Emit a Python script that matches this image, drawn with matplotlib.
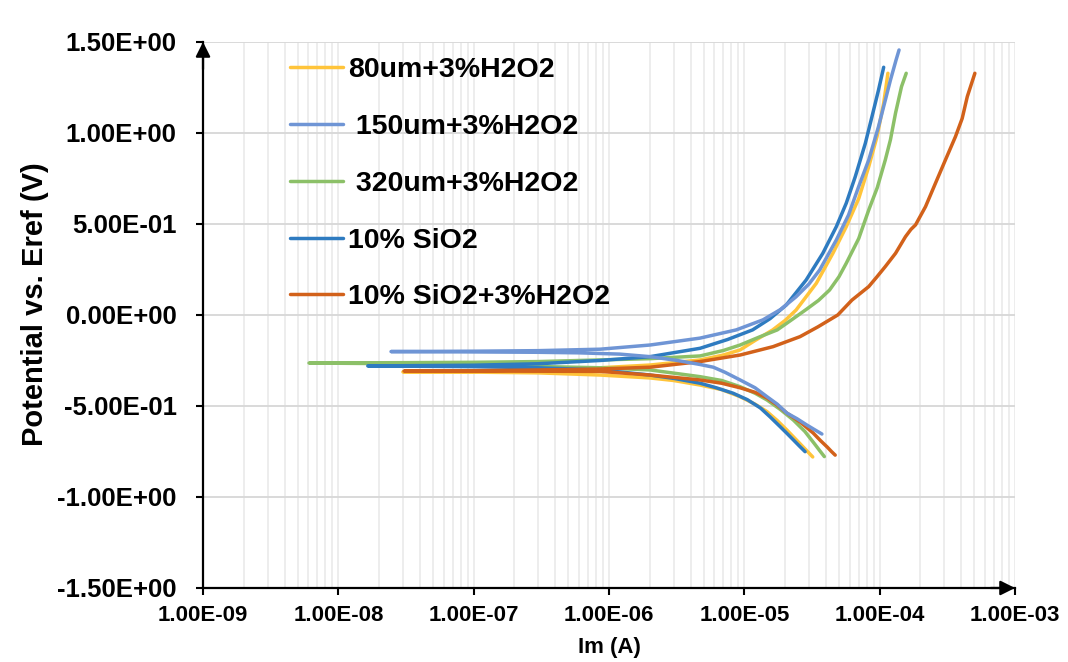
"""
Tafel polarisation curves (potential vs log current) for the five samples
"""
import numpy as np
import matplotlib
matplotlib.use('Agg')
import matplotlib.pyplot as plt
from matplotlib.ticker import LogLocator, FixedLocator, NullFormatter

plt.rcParams['font.family'] = ['Liberation Sans', 'DejaVu Sans']
plt.rcParams['font.weight'] = 'bold'

# each curve: cathodic end -> corrosion tip -> anodic end
i_80 = [3.2e-5, 2.6e-5, 2.06e-5, 1.75e-5, 1.47e-5, 1.2e-5, 9.3e-6, 6.8e-6, 4.71e-6, 3e-6, 2.01e-6,
        8.6e-7, 3e-7, 1e-7, 3.0e-8,
        1e-7, 3e-7, 8.6e-7, 2.01e-6, 4.71e-6, 7e-6, 9.3e-6, 1.2e-5, 1.62e-5, 2.0e-5, 2.41e-5,
        3.4e-5, 4.51e-5, 5.66e-5, 7.0e-5, 8.3e-5, 9.55e-5, 1.07e-4, 1.15e-4]
e_80 = [-0.78, -0.71, -0.632, -0.58, -0.531, -0.49, -0.449, -0.41, -0.385, -0.36, -0.346,
        -0.33, -0.318, -0.314, -0.313,
        -0.31, -0.303, -0.29, -0.275, -0.247, -0.22, -0.192, -0.14, -0.082, -0.03, 0.027,
        0.174, 0.339, 0.485, 0.64, 0.815, 0.98, 1.163, 1.328]

i_150 = [3.74e-5, 3.3e-5, 2.9e-5, 2.45e-5, 2.06e-5, 1.75e-5, 1.47e-5, 1.2e-5, 9.3e-6, 7.2e-6, 5.9e-6,
         4.7e-6, 3.2e-6, 2.01e-6, 1.2e-6, 6e-7, 3e-7, 1e-7, 2.45e-8,
         1e-7, 3e-7, 8.6e-7, 2.01e-6, 4.71e-6, 8.7e-6, 1.37e-5, 1.85e-5, 2.41e-5, 3.0e-5, 3.6e-5,
         4.78e-5, 5.89e-5, 6.99e-5, 8.3e-5, 9.8e-5, 1.10e-4, 1.2e-4, 1.32e-4, 1.39e-4]
e_150 = [-0.654, -0.63, -0.605, -0.57, -0.539, -0.49, -0.449, -0.40, -0.357, -0.315, -0.287,
         -0.272, -0.25, -0.229, -0.215, -0.208, -0.205, -0.203, -0.201,
         -0.199, -0.196, -0.188, -0.165, -0.127, -0.082, -0.027, 0.03, 0.10, 0.17, 0.247,
         0.412, 0.55, 0.705, 0.852, 1.035, 1.18, 1.29, 1.40, 1.456]

i_320 = [3.9e-5, 3.6e-5, 3.3e-5, 2.8e-5, 2.3e-5, 1.85e-5, 1.47e-5, 1.2e-5, 9.3e-6, 6.8e-6, 4.71e-6,
         2.01e-6, 8.6e-7, 3e-7, 1e-7, 3e-8, 6.07e-9,
         3e-8, 1e-7, 3e-7, 8.6e-7, 2.01e-6, 4.71e-6, 7e-6, 9.3e-6, 1.3e-5, 1.75e-5, 2.3e-5, 2.86e-5,
         3.53e-5, 4.26e-5, 5.0e-5, 5.66e-5, 7.0e-5, 8.3e-5, 9.6e-5, 1.1e-4, 1.2e-4, 1.31e-4,
         1.45e-4, 1.57e-4]
e_320 = [-0.778, -0.745, -0.708, -0.64, -0.577, -0.52, -0.467, -0.43, -0.394, -0.36, -0.339,
         -0.302, -0.29, -0.283, -0.275, -0.268, -0.264,
         -0.262, -0.26, -0.256, -0.247, -0.24, -0.225, -0.195, -0.165, -0.12, -0.082, -0.02, 0.03,
         0.08, 0.137, 0.21, 0.284, 0.42, 0.577, 0.70, 0.852, 0.962, 1.11,
         1.255, 1.328]

i_sio2 = [2.81e-5, 2.55e-5, 2.3e-5, 2.06e-5, 1.84e-5, 1.55e-5, 1.31e-5, 1.05e-5, 8.26e-6, 6.2e-6,
          4.71e-6, 3.1e-6, 2.01e-6, 8.6e-7, 3e-7, 1e-7, 1.65e-8,
          1e-7, 3e-7, 8.6e-7, 2.01e-6, 4.71e-6, 7.5e-6, 1.15e-5, 1.55e-5, 2.04e-5, 2.86e-5, 3.8e-5,
          4.78e-5, 5.66e-5, 6.6e-5, 7.83e-5, 8.77e-5, 9.8e-5, 1.07e-4]
e_sio2 = [-0.751, -0.72, -0.686, -0.65, -0.614, -0.56, -0.51, -0.465, -0.43, -0.40,
          -0.375, -0.35, -0.33, -0.302, -0.29, -0.284, -0.28,
          -0.276, -0.268, -0.25, -0.229, -0.183, -0.135, -0.082, -0.02, 0.055, 0.192, 0.339,
          0.485, 0.614, 0.76, 0.943, 1.09, 1.236, 1.361]

i_sio2_h2o2 = [4.69e-5, 4.4e-5, 4.1e-5, 3.65e-5, 3.22e-5, 2.6e-5, 2.06e-5, 1.75e-5, 1.47e-5, 1.2e-5,
               9.3e-6, 6.8e-6, 4.71e-6, 2.01e-6, 8.6e-7, 3e-7, 1e-7, 3.06e-8,
               1e-7, 3e-7, 8.6e-7, 2.01e-6, 4.71e-6, 9.3e-6, 1.63e-5, 2.58e-5, 3.5e-5, 4.9e-5,
               6.24e-5, 8.3e-5, 9.55e-5, 1.10e-4, 1.31e-4, 1.55e-4, 1.7e-4, 1.84e-4, 2.18e-4,
               2.58e-4, 3.06e-4, 3.63e-4, 4.07e-4, 4.44e-4, 5.05e-4]
e_sio2_h2o2 = [-0.77, -0.75, -0.726, -0.69, -0.648, -0.59, -0.539, -0.495, -0.456, -0.425,
               -0.40, -0.375, -0.357, -0.33, -0.31, -0.309, -0.308, -0.308,
               -0.306, -0.302, -0.297, -0.287, -0.256, -0.22, -0.174, -0.119, -0.065, 0.0,
               0.082, 0.156, 0.21, 0.266, 0.339, 0.43, 0.47, 0.495, 0.595,
               0.723, 0.852, 0.98, 1.08, 1.2, 1.328]

labels = ['80um+3%H2O2', ' 150um+3%H2O2', ' 320um+3%H2O2', '10% SiO2', '10% SiO2+3%H2O2']
colors = ['#FFC43A', '#6F95D5', '#8CC068', '#2E7BC0', '#D2611A']

y_ticks = [-1.5, -1.0, -0.5, 0.0, 0.5, 1.0, 1.5]
x_ticks = [1e-9, 1e-8, 1e-7, 1e-6, 1e-5, 1e-4, 1e-3]

fig = plt.figure(figsize=(10.68, 6.62), dpi=100)
ax = fig.add_axes([0.1901, 0.1118, 0.7603, 0.8248])

series = [(i_80, e_80), (i_150, e_150), (i_320, e_320), (i_sio2, e_sio2), (i_sio2_h2o2, e_sio2_h2o2)]
draw_order = [0, 2, 3, 4, 1]
handles = [None] * 5
for k in draw_order:
    cur, pot = series[k]
    line, = ax.plot(cur, pot, color=colors[k], lw=2.5, solid_capstyle='round',
                    solid_joinstyle='round', label=labels[k], zorder=3 + draw_order.index(k))
    handles[k] = line

ax.set_xscale('log')
ax.set_xlim(1e-9, 1e-3)
ax.set_ylim(-1.5, 1.5)
ax.xaxis.set_major_locator(FixedLocator(x_ticks))
ax.xaxis.set_minor_locator(LogLocator(base=10, subs=np.arange(2, 10)))
ax.xaxis.set_minor_formatter(NullFormatter())
ax.set_xticks(x_ticks)
ax.set_xticklabels(['{:.2E}'.format(v) for v in x_ticks])
ax.set_yticks(y_ticks)
ax.set_yticklabels(['{:.2E}'.format(v) for v in y_ticks])

ax.grid(True, which='major', axis='y', color='#d9d9d9', lw=1.4, zorder=0)
ax.grid(True, which='both', axis='x', color='#ececec', lw=1.3, zorder=0)
ax.set_axisbelow(True)

for s in ['top', 'right']:
    ax.spines[s].set_visible(False)
for s in ['left', 'bottom']:
    ax.spines[s].set_linewidth(1.6)
    ax.spines[s].set_color('black')

ax.tick_params(axis='both', which='major', direction='out', length=5, width=1.5, color='black')
ax.tick_params(axis='x', which='minor', length=0)
ax.tick_params(axis='y', labelsize=18.5, pad=14)
ax.tick_params(axis='x', labelsize=16, pad=7)

# arrow heads at the axis ends
ax.annotate('', xy=(0, 1), xytext=(0, 0.95), xycoords='axes fraction',
            arrowprops=dict(arrowstyle='-|>', color='black', lw=1.6, mutation_scale=22,
                            shrinkA=0, shrinkB=0))
ax.annotate('', xy=(1, 0), xytext=(0.97, 0), xycoords='axes fraction',
            arrowprops=dict(arrowstyle='-|>', color='black', lw=1.6, mutation_scale=22,
                            shrinkA=0, shrinkB=0))

ax.set_xlabel('Im (A)', fontsize=16, fontweight='bold', labelpad=8)
ax.set_ylabel('Potential vs. Eref (V)', fontsize=21, fontweight='bold')
ax.yaxis.set_label_coords(-0.19, 0.52)

leg = ax.legend(handles=handles, labels=labels, loc='upper left', bbox_to_anchor=(0.107, 0.972),
                frameon=False, fontsize=20.5, handlelength=1.86, handletextpad=0.18,
                labelspacing=1.08, borderaxespad=0, borderpad=0)
for line in leg.get_lines():
    line.set_linewidth(2.5)

fig.savefig('out.png', dpi=100)
